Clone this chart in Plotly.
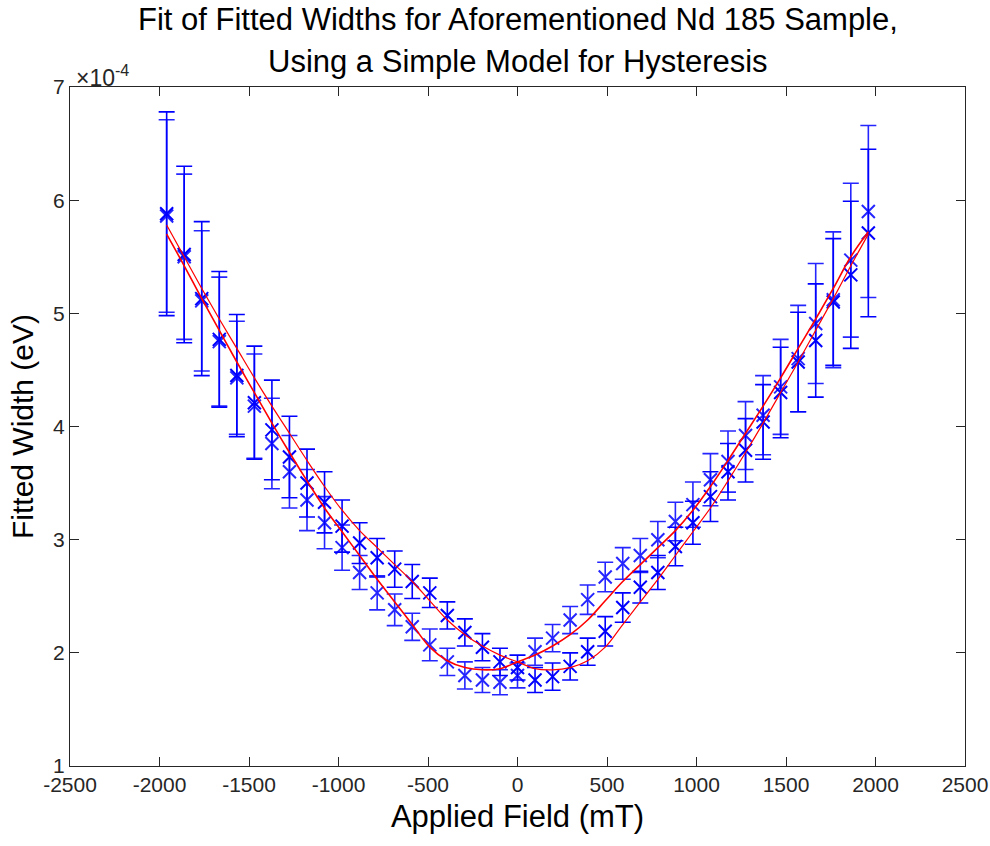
import plotly.graph_objects as go

# Applied field (mT)
field = [-1960, -1862, -1764, -1666, -1568, -1470, -1372, -1274, -1176, -1078,
         -980, -882, -784, -686, -588, -490, -392, -294, -196, -98,
         0, 98, 196, 294, 392, 490, 588, 686, 784, 882,
         980, 1078, 1176, 1274, 1372, 1470, 1568, 1666, 1764, 1862, 1960]

# Fitted widths (units of 1e-4 eV), sweep A (upper on left, lower on right)
width_a = [5.88, 5.52, 5.13, 4.77, 4.45, 4.21, 3.97, 3.73, 3.50, 3.33,
           3.12, 2.97, 2.84, 2.74, 2.63, 2.53, 2.33, 2.18, 2.05, 1.92,
           1.87, 1.76, 1.79, 1.88, 2.01, 2.19, 2.40, 2.58, 2.71, 2.94,
           3.15, 3.38, 3.60, 3.79, 4.04, 4.30, 4.57, 4.76, 5.10, 5.34, 5.71]
err_a = [0.90, 0.78, 0.68, 0.60, 0.54, 0.50, 0.44, 0.36, 0.30, 0.27,
         0.23, 0.18, 0.17, 0.16, 0.15, 0.13, 0.12, 0.12, 0.12, 0.12,
         0.11, 0.11, 0.12, 0.12, 0.12, 0.13, 0.13, 0.14, 0.15, 0.17,
         0.19, 0.22, 0.25, 0.28, 0.33, 0.40, 0.44, 0.50, 0.56, 0.65, 0.74]

# Sweep B (lower on left, upper on right)
width_b = [5.86, 5.50, 5.11, 4.75, 4.43, 4.18, 3.85, 3.60, 3.35, 3.15,
           2.93, 2.71, 2.53, 2.38, 2.23, 2.07, 1.92, 1.80, 1.76, 1.74,
           1.80, 2.01, 2.13, 2.29, 2.47, 2.67, 2.79, 2.86, 3.00, 3.16,
           3.31, 3.53, 3.69, 3.92, 4.10, 4.35, 4.60, 4.91, 5.12, 5.47, 5.90]
err_b = [0.85, 0.73, 0.62, 0.57, 0.50, 0.46, 0.40, 0.32, 0.27, 0.23,
         0.20, 0.15, 0.15, 0.14, 0.12, 0.14, 0.12, 0.12, 0.11, 0.11,
         0.11, 0.12, 0.12, 0.12, 0.13, 0.13, 0.14, 0.15, 0.16, 0.17,
         0.20, 0.23, 0.27, 0.30, 0.35, 0.42, 0.47, 0.53, 0.60, 0.68, 0.76]

# Model fit curves (units of 1e-4 eV)
fit_a = [5.78, 5.50, 5.22, 4.95, 4.69, 4.43, 4.18, 3.94, 3.70, 3.47,
         3.26, 3.08, 2.93, 2.78, 2.63, 2.46, 2.29, 2.16, 2.06, 1.98,
         1.92, 1.86, 1.85, 1.87, 1.93, 2.05, 2.25, 2.45, 2.65, 2.86,
         3.07, 3.28, 3.52, 3.77, 4.03, 4.30, 4.57, 4.85, 5.13, 5.42, 5.70]
fit_b = [5.70, 5.42, 5.13, 4.85, 4.57, 4.30, 4.03, 3.77, 3.52, 3.28,
         3.07, 2.86, 2.65, 2.45, 2.25, 2.05, 1.93, 1.87, 1.85, 1.86,
         1.92, 1.98, 2.06, 2.16, 2.29, 2.46, 2.63, 2.78, 2.93, 3.08,
         3.26, 3.47, 3.70, 3.94, 4.18, 4.43, 4.69, 4.95, 5.22, 5.50, 5.72]

x_ticks = [-2500, -2000, -1500, -1000, -500, 0, 500, 1000, 1500, 2000, 2500]
y_ticks = [1, 2, 3, 4, 5, 6, 7]

FONT = "Liberation Sans, Arial, Helvetica, sans-serif"
BLUE = "#0000ff"

fig = go.Figure()

for y, e, op in [(width_a, err_a, 1.0), (width_b, err_b, 0.85)]:
    fig.add_trace(go.Scatter(
        x=field, y=y, mode="markers", opacity=op,
        marker=dict(symbol="x-thin", size=13, line=dict(color=BLUE, width=2), color=BLUE),
        error_y=dict(type="data", array=e, visible=True, color=BLUE, thickness=1.6, width=8),
        showlegend=False, hoverinfo="x+y"))

fig.add_trace(go.Scatter(x=field, y=fit_a, mode="lines", line=dict(color="red", width=1.2, shape="spline"),
                         showlegend=False))
fig.add_trace(go.Scatter(x=field, y=fit_b, mode="lines", line=dict(color="red", width=1.6, shape="spline"),
                         showlegend=False))

axis_common = dict(showgrid=False, zeroline=False, showline=True, linecolor="#262626", linewidth=1,
                   mirror="ticks", ticks="inside", ticklen=9, tickcolor="#262626", tickwidth=1,
                   automargin=False,
                   tickfont=dict(family=FONT, size=21, color="#262626"))

fig.update_xaxes(range=[-2500, 2500], tickvals=x_ticks, ticktext=[str(v) for v in x_ticks],
                 title=dict(text="Applied Field (mT)", font=dict(family=FONT, size=31, color="#000"), standoff=10),
                 **axis_common)
fig.update_yaxes(range=[1, 7], tickvals=y_ticks, ticktext=[str(v) for v in y_ticks],
                 title=dict(text="Fitted Width (eV)", font=dict(family=FONT, size=30, color="#000"), standoff=10),
                 **axis_common)

fig.update_layout(
    width=990, height=846,
    margin=dict(l=70, r=25, t=87, b=80, autoexpand=False),
    plot_bgcolor="white", paper_bgcolor="white",
    font=dict(family=FONT),
    annotations=[
        dict(text="Fit of Fitted Widths for Aforementioned Nd 185 Sample,", xref="paper", yref="paper",
             x=0.5, y=(766 - 20) / 679, xanchor="center", yanchor="middle", showarrow=False,
             font=dict(family=FONT, size=31, color="#000")),
        dict(text="Using a Simple Model for Hysteresis", xref="paper", yref="paper",
             x=0.5, y=(766 - 62) / 679, xanchor="center", yanchor="middle", showarrow=False,
             font=dict(family=FONT, size=31, color="#000")),
        dict(text="×10<sup>-4</sup>", xref="paper", yref="paper", x=0.004, y=(766 - 76) / 679,
             xanchor="left", yanchor="middle", showarrow=False,
             font=dict(family=FONT, size=23, color="#262626")),
    ],
)

fig.write_html("out.html")
